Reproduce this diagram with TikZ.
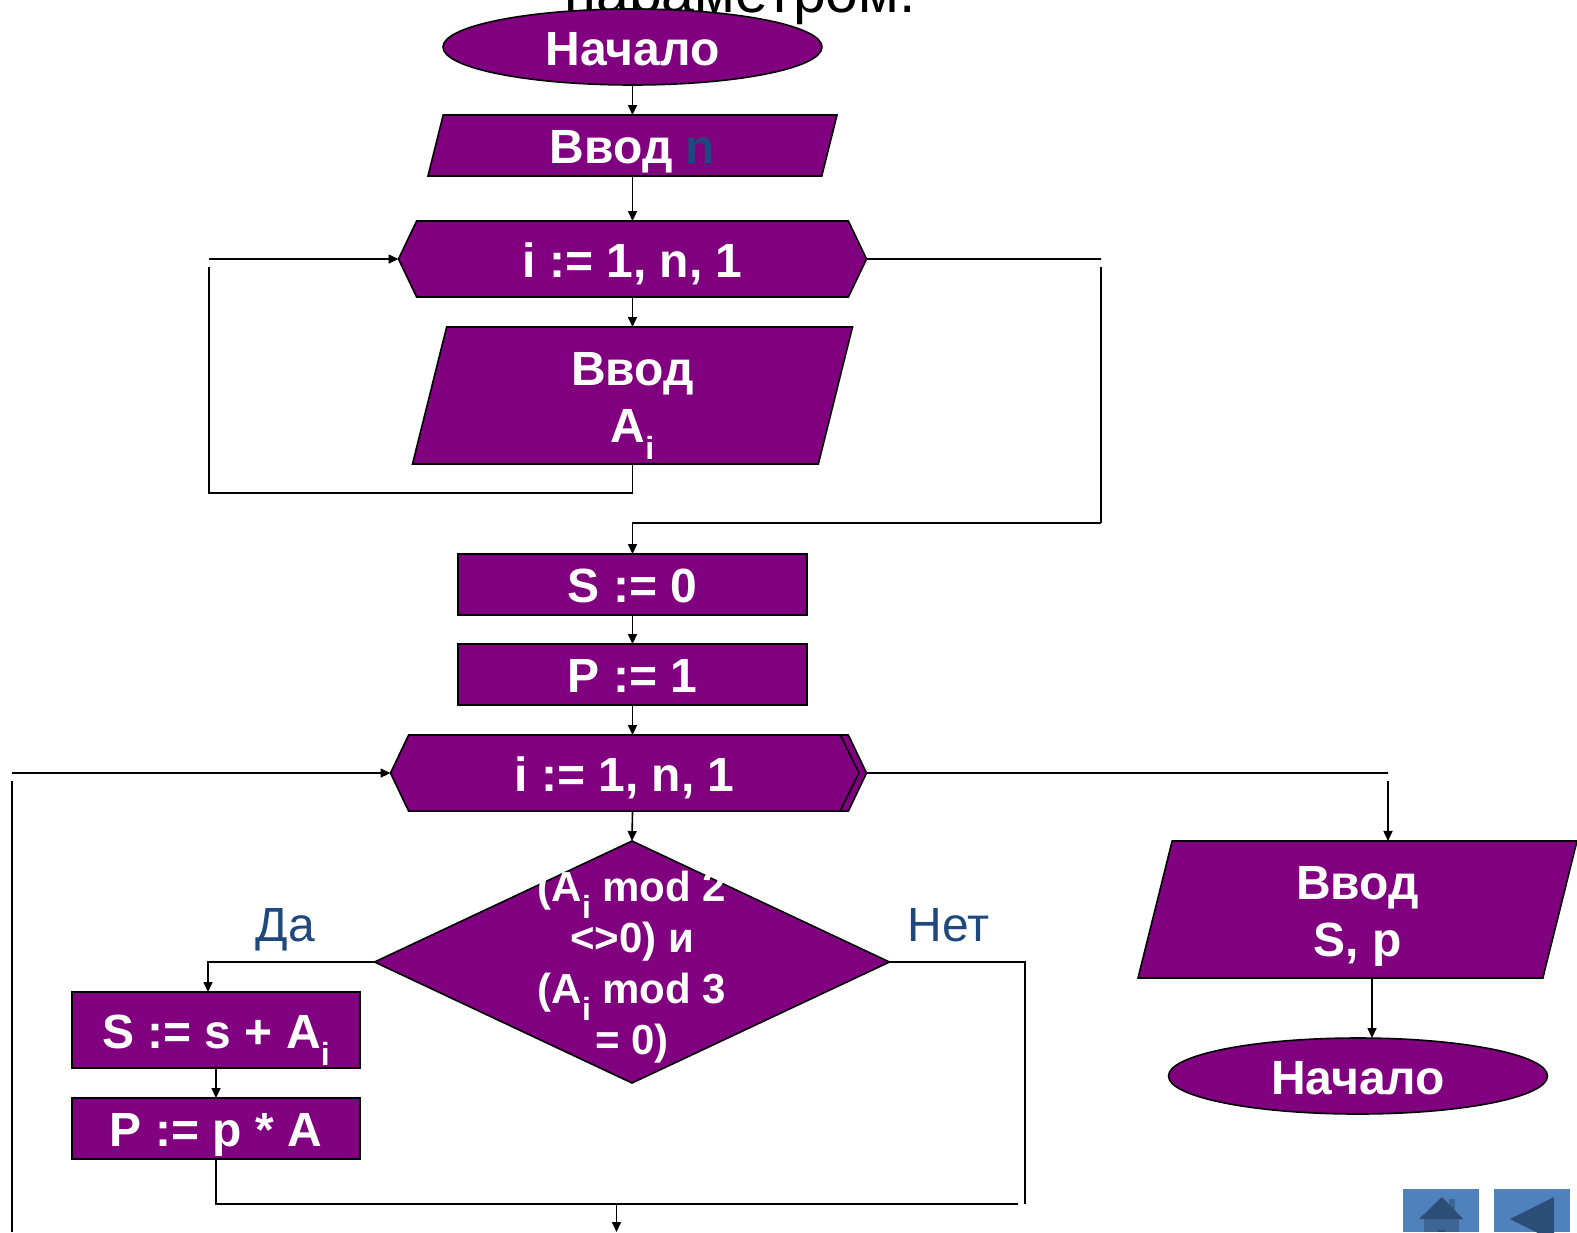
\documentclass[tikz,border=0pt]{standalone}
\usepackage{fontspec}
\setmainfont{Liberation Sans}
\usepackage{xcolor}
\usepackage{tikz}
\usetikzlibrary{arrows.meta, positioning, shapes.geometric, shapes.symbols}

\definecolor{blockpurple}{HTML}{800080}
\definecolor{labelblue}{HTML}{1F497D}
\definecolor{btnblue}{HTML}{4F81BD}
\definecolor{btndark}{HTML}{2C4D75}
\definecolor{btnmid}{HTML}{3B6593}

\newcommand{\subi}{\raisebox{-17pt}{\fontsize{32}{32}\selectfont i}}

\begin{document}
\begin{tikzpicture}[
  x=1pt, y=-1pt,
  line width=1.6pt,
  block/.style={draw=black, fill=blockpurple, text=white, inner sep=0pt, outer sep=0pt,
    font=\fontsize{48}{57}\selectfont\bfseries, align=center, text height=36pt, text depth=0pt},
  terminal/.style={block, ellipse, minimum width=379pt, minimum height=76pt},
  inputshort/.style={block, trapezium, trapezium left angle=76, trapezium right angle=104,
    trapezium stretches body, inner ysep=12.5pt},
  inputtall/.style={inputshort, text height=94pt, inner ysep=21.5pt},
  loopbox/.style={block, signal, signal to=west and east, signal pointer angle=129,
    minimum height=76pt},
  procbox/.style={block, rectangle, minimum height=61pt},
  condbox/.style={block, diamond, minimum width=515pt, minimum height=242pt, text height=0pt},
  flow/.style={-{Triangle[length=10pt,width=9pt]}},
  answer/.style={text=labelblue, font=\fontsize{48}{57}\selectfont, text height=34.4pt, text depth=0pt},
  every node/.style={outer sep=0pt}
]
\clip (0,0) rectangle (1577,1232);

\node (title) at (740,3) [font=\fontsize{59}{59}\selectfont, text=black] {параметром.};

% main column
\node [terminal] (start) at (632.5,47) {Начало};
\node [inputshort, minimum width=409pt, below=30pt of start] (readn) {Ввод \textcolor{labelblue}{n}};
\node [loopbox, minimum width=468pt, below=45pt of readn] (loopa) {i := 1, n, 1};
\node [inputtall, minimum width=440pt, below=30pt of loopa] (reada) {Ввод\\A\subi};
\node [procbox, minimum width=349pt, below=90pt of reada] (sumzero) {S := 0};
\node [procbox, minimum width=349pt, below=29pt of sumzero] (prodone) {P := 1};
\node [loopbox, minimum width=476pt, below=30pt of prodone, xshift=-4pt] (loopb) {i := 1, n, 1\hspace*{8pt}};
\node [condbox] (cond) at (632,962) {};
\node (condtext) at (632,967) [text=white, align=center, font=\fontsize{42}{51}\selectfont\bfseries]
  {(A\subi{} mod 2\\<>0) и\\(A\subi{} mod 3\\= 0)};

% branch boxes
\node [procbox, minimum width=288pt, minimum height=76pt] (addsum) at (216,1030) {S := s + A\subi};
\node [procbox, minimum width=288pt, below=30pt of addsum] (mulprod) {P := p * A};

% output column
\node [inputtall, minimum width=439pt] (readout) at (1357.5,909.5) {Ввод\\S, p};
\node [terminal] (stop) at (1358,1076) {Начало};

\node [answer] (yes) at (285.5,924) {Да};
\node [answer] (no) at (948.5,924) {Нет};

% free ends
\coordinate (backa) at (209,259);
\coordinate (backacorner) at (209,267);
\coordinate (backalow) at (209,493);
\coordinate (exita) at (1101,259);
\coordinate (exitacorner) at (1101,267);
\coordinate (exitalow) at (1101,523);
\coordinate (backb) at (12,773);
\coordinate (backbcorner) at (12,781);
\coordinate (backbend) at (12,1232);
\coordinate (exitb) at (1388,773);
\coordinate (exitbcorner) at (1388,781);
\coordinate (outdown) at (1372,978);
\coordinate (yescorner) at (208,962);
\coordinate (nocorner) at (1025,962);
\coordinate (nolow) at (1025,1204);
\coordinate (joinlow) at (216,1204);
\coordinate (joinend) at (1018,1204);
\coordinate (joindown) at (616.5,1204);
\coordinate (joinout) at (616.5,1232);

% connectors
\draw [flow] (start.south) -- (readn.north -| start.south);
\draw [flow] (readn.south -| start.south) -- (loopa.north -| start.south);
\draw [flow] (loopa.south -| start.south) -- (reada.north -| start.south);
\draw (reada.south -| start.south) -- (backalow -| start.south) -- (backalow) -- (backacorner);
\draw [flow] (backa) -- (loopa.west);
\draw (loopa.east) -- (exita);
\draw (exitacorner) -- (exitalow);
\draw [flow] (exitalow) -- (exitalow -| start.south) -- (sumzero.north);
\draw [flow] (sumzero.south) -- (prodone.north);
\draw [flow] (prodone.south) -- (prodone.south |- loopb.north);
\draw [flow] (prodone.south |- loopb.south) -- (cond.north);
\draw [flow] (backb) -- (loopb.west);
\draw (backbcorner) -- (backbend);
\draw (loopb.east) -- (exitb);
\draw [flow] (exitbcorner) -- (exitbcorner |- readout.north);
\draw [flow] (outdown |- readout.south) -- (outdown |- stop.north);
\draw [flow] (cond.west) -- (yescorner) -- (yescorner |- addsum.north);
\draw [flow] (addsum.south) -- (mulprod.north);
\draw (mulprod.south) -- (joinlow) -- (joinend);
\draw (cond.east) -- (nocorner) -- (nolow);
\draw [flow] (joindown) -- (joinout);

% second edge on the right of the lower loop box
\draw (840,734.5) -- (859,773) -- (840,811);

% buttons
\fill [btnblue] (1403,1189) rectangle (1479,1232);
\fill [btnmid] (1424,1219) rectangle (1459,1232);
\fill [btnmid] (1449,1199) rectangle (1455,1212);
\fill [btndark] (1442,1197) -- (1463,1219) -- (1419,1219) -- cycle;
\fill [btndark] (1438,1230) rectangle (1445,1232);
\fill [btnblue] (1494,1189) rectangle (1570,1232);
\fill [btndark] (1510,1219) -- (1554,1197) -- (1554,1241) -- cycle;
\end{tikzpicture}
\end{document}
